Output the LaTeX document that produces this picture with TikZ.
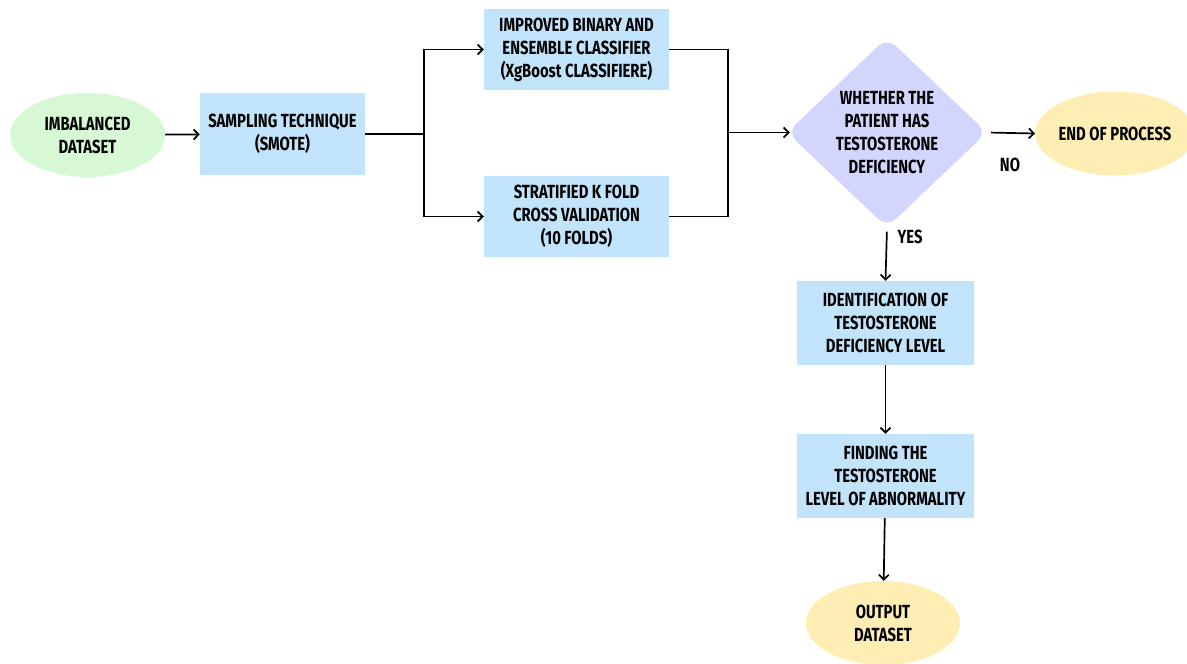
\documentclass[tikz,border=0pt]{standalone}
\usepackage{fontspec}
\setmainfont{Fira Sans}[FakeStretch=0.78]
\usetikzlibrary{shapes.geometric,arrows.meta}
\definecolor{boxblue}{RGB}{194,228,250}
\definecolor{startgreen}{RGB}{214,248,212}
\definecolor{decviolet}{RGB}{211,214,252}
\definecolor{endyellow}{RGB}{254,238,180}
\begin{document}
\begin{tikzpicture}[x=1pt, y=-1pt,
  font=\fontsize{19}{23}\selectfont\bfseries,
  procbox/.style={rectangle, fill=boxblue, align=center, inner sep=0pt,
    minimum width=177pt, minimum height=84pt},
  terminal/.style={ellipse, align=center, inner sep=0pt,
    minimum width=155pt, minimum height=84pt},
  decision/.style={diamond, fill=decviolet, align=center, inner sep=-6pt,
    rounded corners=12pt, minimum width=200pt, minimum height=190pt},
  link/.style={line width=1.7pt},
  arrow/.style={link, -{Straight Barb[length=5pt,width=10pt]}}]
  \useasboundingbox (0,0) rectangle (1187,664);
  % start and preprocessing
  \node [terminal, fill=startgreen] (imbalanced) at (87.5,135) {IMBALANCED\\DATASET};
  \node [procbox, minimum width=165pt, minimum height=82pt] (sampling) at (282.5,134) {SAMPLING TECHNIQUE\\(SMOTE)};
  \node [procbox, minimum width=185pt, minimum height=81pt] (classifier) at (576.5,49.5) {IMPROVED BINARY AND\\ENSEMBLE CLASSIFIER\\(XgBoost CLASSIFIERE)};
  \node [procbox, minimum width=185pt, minimum height=81pt] (kfold) at (576.5,216.5) {STRATIFIED K FOLD\\CROSS VALIDATION\\(10 FOLDS)};
  % decision
  \node [decision] (deficiency) at (887,132.5) {WHETHER THE\\PATIENT HAS\\TESTOSTERONE\\DEFICIENCY};
  \node [terminal, fill=endyellow] (endprocess) at (1115,133.5) {END OF PROCESS};
  \node [procbox] (identify) at (885.5,323) {IDENTIFICATION OF\\TESTOSTERONE\\DEFICIENCY LEVEL};
  \node [procbox] (finding) at (885.5,476) {FINDING THE\\TESTOSTERONE\\LEVEL OF ABNORMALITY};
  \node [terminal, fill=endyellow, minimum width=154pt] (output) at (883,623) {OUTPUT\\DATASET};
  \coordinate (split) at (424,134);
  \coordinate (join) at (728,132.5);
  % connectors
  \draw [arrow] (imbalanced) -- (sampling);
  \draw [link] (sampling.east) -- (split);
  \draw [arrow] (split) |- (classifier.west);
  \draw [arrow] (split) |- (kfold.west);
  \draw [link] (classifier.east) -| (join);
  \draw [link] (kfold.east) -| (join);
  \draw [arrow, shorten >=-3pt] (join) -- (deficiency.west);
  \draw [arrow, shorten <=4pt] (deficiency.east) -- (endprocess.west);
  \draw [arrow, shorten <=4pt] (deficiency.south) -- (identify.north);
  \draw [arrow] (identify) -- (finding);
  \draw [arrow] (finding) -- (output);
  \node (no) at (1010,165) {NO};
  \node (yes) at (910,237) {YES};
\end{tikzpicture}
\end{document}
